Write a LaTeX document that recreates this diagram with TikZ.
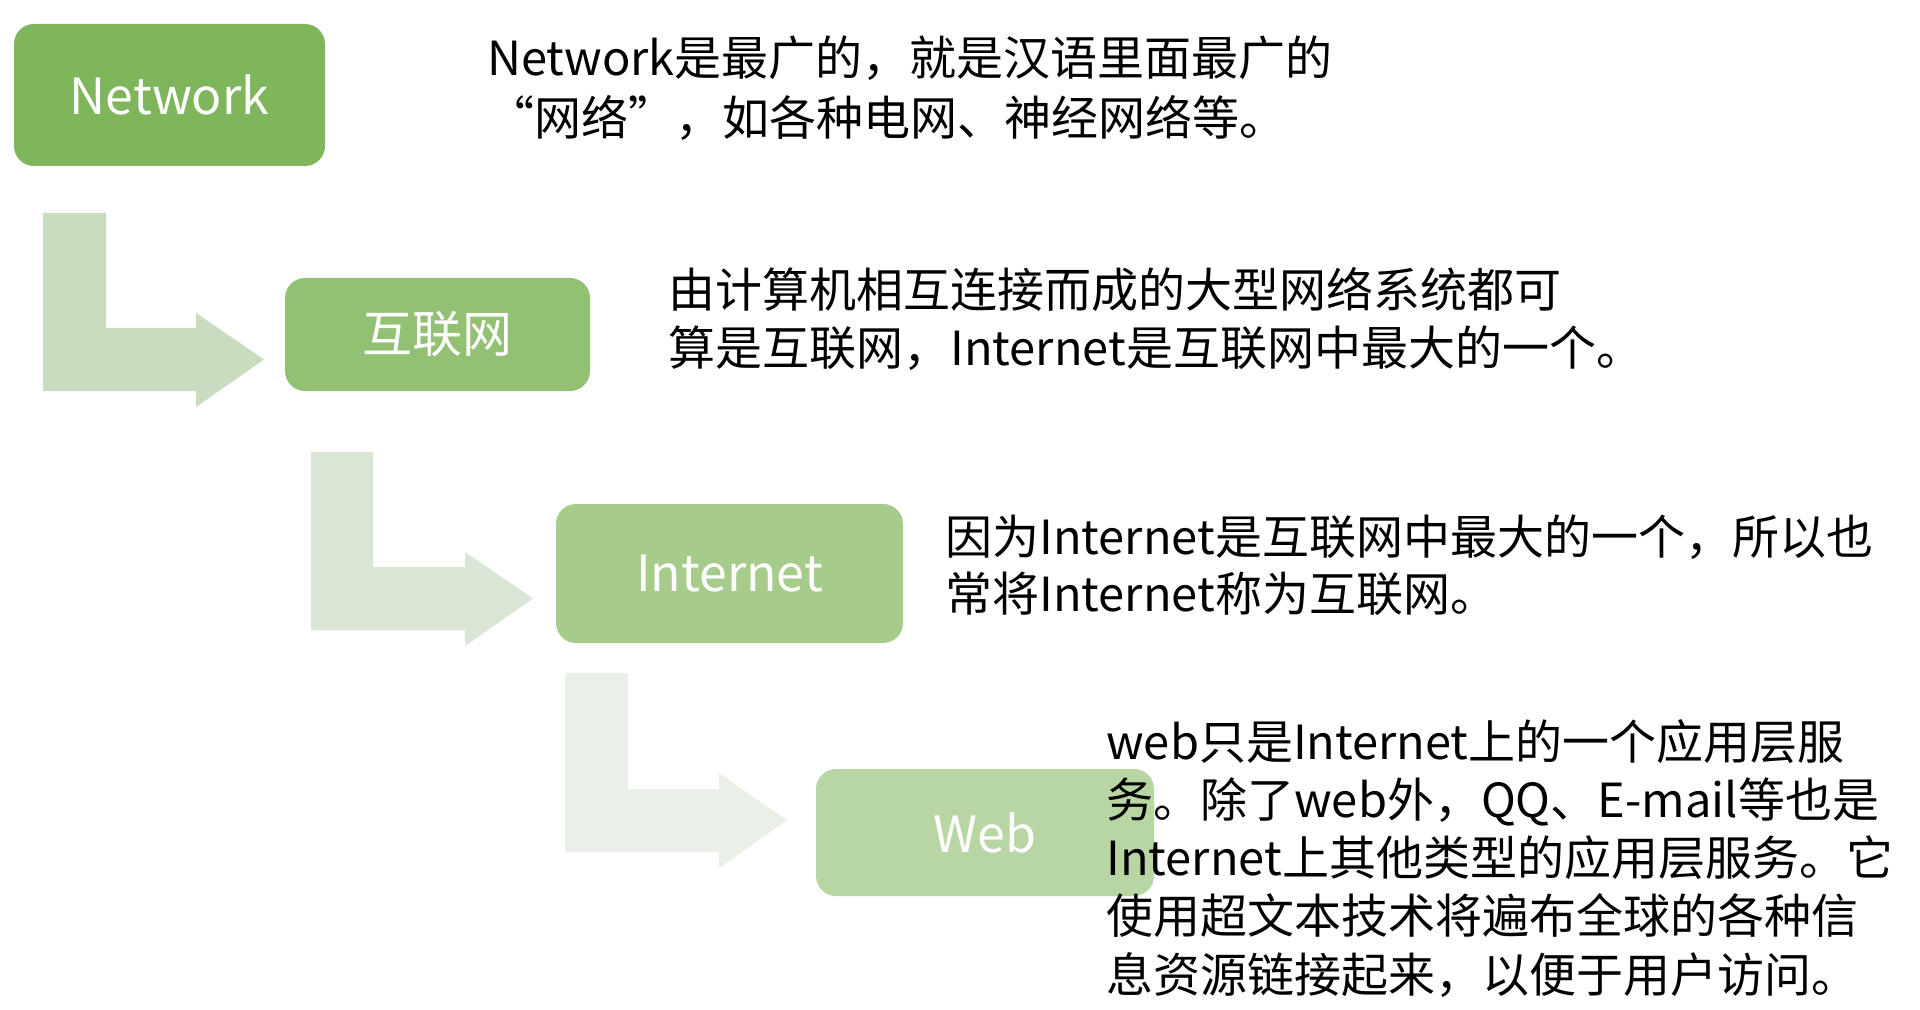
\documentclass[tikz,border=0pt]{standalone}
\usepackage{fontspec}
\setmainfont{Noto Sans CJK SC}
\definecolor{boxA}{HTML}{7FB55B}
\definecolor{boxB}{HTML}{93C173}
\definecolor{boxC}{HTML}{A6CB8B}
\definecolor{boxD}{HTML}{B8D6A3}
\definecolor{arrA}{HTML}{C9DCC0}
\definecolor{arrB}{HTML}{D9E5D5}
\definecolor{arrC}{HTML}{EAF0E7}
\tikzset{
  greenbox/.style={rectangle, rounded corners=10pt, inner sep=0pt, text=white,
    font=\fontsize{25pt}{30pt}\selectfont},
  bodytext/.style={anchor=west, inner sep=0pt, text=black,
    font=\fontsize{23.5pt}{28pt}\selectfont, text height=0.85em, text depth=0.15em},
  bentarrow/.style={draw=none}
}
\begin{document}
\begin{tikzpicture}[x=0.5pt, y=-0.5pt]
\useasboundingbox (0,0) rectangle (1920,1010);
\fill[white] (0,0) rectangle (1920,1010);

% bent block arrows
\fill[bentarrow, arrA] (43,213) -- (106,213) -- (106,328) -- (196,328) -- (196,313)
  -- (264,359.5) -- (196,407) -- (196,391) -- (43,391) -- cycle;
\fill[bentarrow, arrB] (311,452) -- (373,452) -- (373,567) -- (465,567) -- (465,552)
  -- (533,598.5) -- (465,646) -- (465,630) -- (311,630) -- cycle;
\fill[bentarrow, arrC] (565,673) -- (628,673) -- (628,789) -- (719,789) -- (719,773)
  -- (787,820.5) -- (719,868) -- (719,852) -- (565,852) -- cycle;

% boxes
\node[greenbox, fill=boxA, minimum width=155.5pt, minimum height=71pt] (net) at (169.5,95) {Network};
\node[greenbox, fill=boxB, minimum width=152.5pt, minimum height=56.5pt] (hlw) at (437.5,334.5) {互联网};
\node[greenbox, fill=boxC, minimum width=173.5pt, minimum height=69.5pt] (inet) at (729.5,573.5) {Internet};
\node[greenbox, fill=boxD, minimum width=169pt, minimum height=63.5pt] (web) at (985,832.5) {Web};

% descriptions
\node[bodytext] (t1a) at (487,69) {Network是最广的，就是汉语里面最广的};
\node[bodytext] (t1b) at (487,129) {“网络”，如各种电网、神经网络等。};

\node[bodytext] (t2a) at (668,300) {由计算机相互连接而成的大型网络系统都可};
\node[bodytext] (t2b) at (668,358) {算是互联网，Internet是互联网中最大的一个。};

\node[bodytext] (t3a) at (945,547) {因为Internet是互联网中最大的一个，所以也};
\node[bodytext] (t3b) at (945,604) {常将Internet称为互联网。};

\node[bodytext] (t4a) at (1106,752) {web只是Internet上的一个应用层服};
\node[bodytext] (t4b) at (1106,810) {务。除了web外，QQ、E-mail等也是};
\node[bodytext] (t4c) at (1106,868) {Internet上其他类型的应用层服务。它};
\node[bodytext] (t4d) at (1106,926) {使用超文本技术将遍布全球的各种信};
\node[bodytext] (t4e) at (1106,985) {息资源链接起来，以便于用户访问。};
\end{tikzpicture}
\end{document}
